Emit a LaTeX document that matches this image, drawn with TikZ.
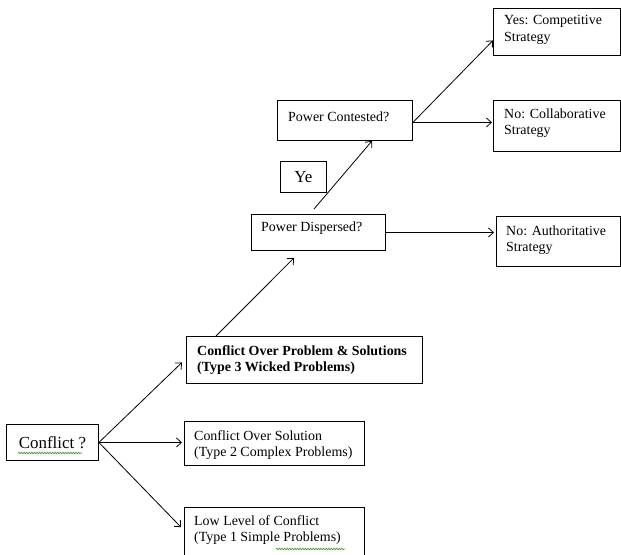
\documentclass[tikz,border=0pt]{standalone}
\usepackage{fontspec}
\setmainfont{Liberation Serif}
\usetikzlibrary{arrows.meta,calc,decorations.pathmorphing}

\tikzset{
  box/.style={draw=black, line width=0.9bp, fill=white, inner sep=0, anchor=north west},
  txt/.style={inner sep=0, align=left, anchor=north west,
              font=\fontsize{14}{16.5}\selectfont},
  bigtxt/.style={inner sep=0, font=\fontsize{17}{19}\selectfont},
  arr/.style={draw=black, line width=0.8bp, -{Straight Barb[length=5pt,width=9pt]}},
  spell/.style={draw={rgb,255:red,90;green,150;blue,60}, line width=0.7bp,
                decorate, decoration={snake, segment length=2.6bp, amplitude=0.8bp}}
}

\begin{document}
\begin{tikzpicture}[x=1bp, y=-1bp]
\useasboundingbox (0,0) rectangle (621,555);

% boxes
\node[box, minimum width=92bp,  minimum height=36bp] (cf)  at (6,424)   {};
\node[box, minimum width=236bp, minimum height=47bp] (cop) at (186,336) {};
\node[box, minimum width=180bp, minimum height=44bp] (cos) at (184,421) {};
\node[box, minimum width=180bp, minimum height=47.5bp] (low) at (184,507) {};
\node[box, minimum width=134bp, minimum height=36bp] (pd)  at (251,214) {};
\node[box, minimum width=46bp,  minimum height=31bp] (ye)  at (280,161) {};
\node[box, minimum width=135bp, minimum height=40bp] (pc)  at (277,100) {};
\node[box, minimum width=127bp, minimum height=47bp] (yes) at (493,8)   {};
\node[box, minimum width=127bp, minimum height=51bp] (nc)  at (493,100) {};
\node[box, minimum width=124bp, minimum height=50bp] (na)  at (496,216) {};

% labels
\node[bigtxt] (cft) at (cf.center) {Conflict ?};
\node[bigtxt] (yet) at (ye.center) {Ye};
\node[txt, font=\fontsize{14}{16.5}\selectfont\bfseries] (copt) at (197,345.5)
  {Conflict Over Problem \& Solutions\\(Type 3 Wicked Problems)};
\node[txt] (cost) at (194,430.5) {Conflict Over Solution\\(Type 2 Complex Problems)};
\node[txt] (lowt) at (194,515.5) {Low Level of Conflict\\(Type 1 Simple Problems)};
\node[txt] (pdt)  at (261,221.5) {Power Dispersed?};
\node[txt] (pct)  at (288,111.5) {Power Contested?};
\node[txt] (yest) at (504,15.5)  {Yes: Competitive\\Strategy};
\node[txt] (nct)  at (504,108.5) {No: Collaborative\\Strategy};
\node[txt] (nat)  at (506,225.5) {No: Authoritative\\Strategy};

% spell-check underlines
\draw[spell] (18,453) -- (82,453);
\draw[spell] (276,549) -- (345,549);

% connectors
\draw[arr] (cf.east) -- ($(cop.west)+(-4,2.5)$);
\draw[arr] (cf.east) -- ($(cf.east -| cos.west)+(-2,0)$);
\draw[arr] (cf.east) -- ($(low.west)+(-3,-4)$);
\draw[arr] ($(cop.north west)+(30,0)$) -- ($(pd.south west)+(43,7)$);
\draw[arr] ($(pd.north west)+(63,-5)$) -- ($(pc.south west)+(95,0)$);
\draw[arr] (pd.east) -- ($(pd.east -| na.west)+(-2,0)$);
\coordinate (pcx) at ($(pc.east)+(0,2)$);
\draw[arr] (pcx) -- ($(yes.west)+(0,8.5)$);
\draw[arr] (pcx) -- ($(pcx -| nc.west)+(-1,0)$);
\end{tikzpicture}
\end{document}
